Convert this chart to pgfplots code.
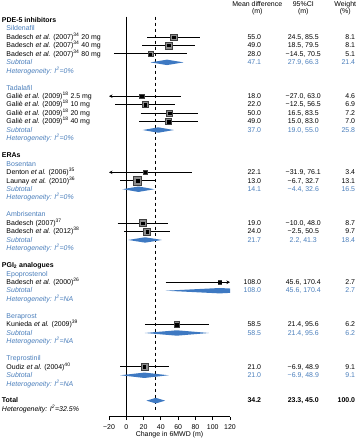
\documentclass[border=0pt]{standalone}
\usepackage{fontspec}
\setmainfont{Liberation Sans}
\usepackage{pgfplots}
\usepackage{pgfplotstable}
\pgfplotsset{compat=1.18}
\usetikzlibrary{calc,arrows.meta}
\definecolor{tblue}{HTML}{4A7EBB}
\definecolor{dblue}{HTML}{3E79C2}

\pgfplotstableread{
r m w
2 55.0 8.1
3 49.0 8.1
4 28.0 5.1
9 18.0 4.6
10 22.0 6.9
11 50.0 7.2
12 49.0 7.0
18 22.1 3.4
19 13.0 13.1
24 19.0 8.7
25 24.0 9.7
31 108.0 2.7
36 58.5 6.2
41 21.0 9.1
}\studies

% text helpers: xshift in bp from x=0 line, row, text
\newcommand\LabSub[3][]{\node[anchor=base west,inner sep=0pt,#1] at ([xshift=-120bp,yshift=-2.3bp]axis cs:0,#2) {#3};}
\newcommand\LabTop[3][]{\node[anchor=base west,inner sep=0pt,#1] at ([xshift=-124.5bp,yshift=-2.3bp]axis cs:0,#2) {#3};}
\newcommand\Cols[5][]{%
  \node[anchor=base east,inner sep=0pt,#1] at ([xshift=135bp,yshift=-2.3bp]axis cs:0,#2) {#3};
  \node[anchor=base,inner sep=0pt,#1] at ([xshift=177bp,yshift=-2.3bp]axis cs:0,#2) {#4};
  \node[anchor=base east,inner sep=0pt,#1] at ([xshift=229bp,yshift=-2.3bp]axis cs:0,#2) {#5};}
\newcommand\Het[1]{\textit{Heterogeneity: I\textsuperscript{2}=#1}}

\begin{document}
\fontsize{7}{8.4}\selectfont
\begin{tikzpicture}[font=\fontsize{7}{8.4}\selectfont]
\begin{axis}[
  at={(0,0)}, anchor=south west,
  scale only axis, width=121bp, height=400bp,
  xmin=-20, xmax=120, ymin=-0.4, ymax=46.9, y dir=reverse,
  axis x line*=bottom, axis y line=none,
  x axis line style={line width=0.9bp, black},
  xtick={-20,0,20,40,60,80,100,120},
  xticklabels={−20,0,20,40,60,80,100,120},
  tick align=outside, major tick length=3.5bp,
  xtick style={line width=0.9bp, black},
  xticklabel style={font=\fontsize{7}{8}\selectfont, inner sep=0pt, text height=5bp, text depth=0pt, yshift=-4bp},
  clip=false,
  ci/.style={black, line width=0.9bp},
]
% reference lines
\addplot[black, line width=0.9bp] coordinates {(0,-0.4) (0,46.9)};
\addplot[black, line width=0.9bp, dash pattern=on 3.5bp off 2.5bp] coordinates {(34.2,-0.4) (34.2,46.3)};

% confidence intervals
\addplot[ci] coordinates {(24.5,2) (85.5,2)};
\addplot[ci] coordinates {(18.5,3) (79.5,3)};
\addplot[ci] coordinates {(-14.5,4) (70.5,4)};
\addplot[ci, {Stealth[length=3.5bp,width=3.5bp]}-] coordinates {(-20,9) (63.0,9)};
\addplot[ci] coordinates {(-12.5,10) (56.5,10)};
\addplot[ci] coordinates {(16.5,11) (83.5,11)};
\addplot[ci] coordinates {(15.0,12) (83.0,12)};
\addplot[ci, {Stealth[length=3.5bp,width=3.5bp]}-] coordinates {(-20,18) (76.1,18)};
\addplot[ci] coordinates {(-6.7,19) (32.7,19)};
\addplot[ci] coordinates {(-10.0,24) (48.0,24)};
\addplot[ci] coordinates {(-2.5,25) (50.5,25)};
\addplot[ci, -{Stealth[length=3.5bp,width=3.5bp]}] coordinates {(45.6,31) (120,31)};
\addplot[ci] coordinates {(21.4,36) (95.6,36)};
\addplot[ci] coordinates {(-6.9,41) (48.9,41)};

% study squares (area ~ weight)
\addplot[scatter, only marks, mark=square*,
  scatter/use mapped color={draw=black!75, fill=black!45},
  visualization depends on={1.15*sqrt(\thisrow{w}) \as \msz},
  scatter/@pre marker code/.append style={/tikz/mark size=\msz, /tikz/line width=0.5bp}]
  table[x=m, y=r] {\studies};
\addplot[only marks, mark=square*, mark size=1.2bp, black] table[x=m, y=r] {\studies};

% diamonds
\addplot[fill=dblue, draw=none] coordinates {(27.9,5) (47.1,4.68) (66.3,5) (47.1,5.32)};
\addplot[fill=dblue, draw=none] coordinates {(19.0,13) (37.0,12.68) (55.0,13) (37.0,13.32)};
\addplot[fill=dblue, draw=none] coordinates {(-4.4,20) (14.1,19.68) (32.6,20) (14.1,20.32)};
\addplot[fill=dblue, draw=none] coordinates {(2.2,26) (21.7,25.68) (41.3,26) (21.7,26.32)};
\addplot[fill=dblue, draw=none] coordinates {(45.6,32) (108.0,31.68) (120,31.742) (120,32.258) (108.0,32.32)};
\addplot[fill=dblue, draw=none] coordinates {(21.4,37) (58.5,36.68) (95.6,37) (58.5,37.32)};
\addplot[fill=dblue, draw=none] coordinates {(-6.9,42) (21.0,41.68) (48.9,42) (21.0,42.32)};
\addplot[fill=dblue, draw=none] coordinates {(23.3,45) (34.2,44.67) (45.0,45) (34.2,45.33)};

% column headers
\node[anchor=base,inner sep=0pt] at ([xshift=131bp,yshift=-2.3bp]axis cs:0,-1.9) {Mean difference};
\node[anchor=base,inner sep=0pt] at ([xshift=131bp,yshift=-2.3bp]axis cs:0,-1.0) {(m)};
\node[anchor=base,inner sep=0pt] at ([xshift=177bp,yshift=-2.3bp]axis cs:0,-1.9) {95\%CI};
\node[anchor=base,inner sep=0pt] at ([xshift=177bp,yshift=-2.3bp]axis cs:0,-1.0) {(m)};
\node[anchor=base,inner sep=0pt] at ([xshift=219bp,yshift=-2.3bp]axis cs:0,-1.9) {Weight};
\node[anchor=base,inner sep=0pt] at ([xshift=219bp,yshift=-2.3bp]axis cs:0,-1.0) {(\%)};

% left labels
\LabTop[font=\fontsize{7}{8.4}\selectfont\bfseries]{0}{PDE-5 inhibitors}
\LabSub[text=tblue]{1}{Sildenafil}
\LabSub{2}{Badesch \textit{et al.} (2007)\textsuperscript{34} 20 mg}
\LabSub{3}{Badesch \textit{et al.} (2007)\textsuperscript{34} 40 mg}
\LabSub{4}{Badesch \textit{et al.} (2007)\textsuperscript{34} 80 mg}
\LabSub[text=tblue]{5}{\textit{Subtotal}}
\LabSub[text=tblue]{6}{\Het{0\%}}
\LabSub[text=tblue]{8}{Tadalafil}
\LabSub{9}{Galiè \textit{et al.} (2009)\textsuperscript{18} 2.5 mg}
\LabSub{10}{Galiè \textit{et al.} (2009)\textsuperscript{18} 10 mg}
\LabSub{11}{Galiè \textit{et al.} (2009)\textsuperscript{18} 20 mg}
\LabSub{12}{Galiè \textit{et al.} (2009)\textsuperscript{18} 40 mg}
\LabSub[text=tblue]{13}{\textit{Subtotal}}
\LabSub[text=tblue]{14}{\Het{0\%}}
\LabTop[font=\fontsize{7}{8.4}\selectfont\bfseries]{16}{ERAs}
\LabSub[text=tblue]{17}{Bosentan}
\LabSub{18}{Denton \textit{et al.} (2006)\textsuperscript{35}}
\LabSub{19}{Launay \textit{et al.} (2010)\textsuperscript{36}}
\LabSub[text=tblue]{20}{\textit{Subtotal}}
\LabSub[text=tblue]{21}{\Het{0\%}}
\LabSub[text=tblue]{23}{Ambrisentan}
\LabSub{24}{Badesch (2007)\textsuperscript{37}}
\LabSub{25}{Badesch \textit{et al.} (2012)\textsuperscript{38}}
\LabSub[text=tblue]{26}{\textit{Subtotal}}
\LabSub[text=tblue]{27}{\Het{0\%}}
\LabTop[font=\fontsize{7}{8.4}\selectfont\bfseries]{29}{PGI\textsubscript{2} analogues}
\LabSub[text=tblue]{30}{Epoprostenol}
\LabSub{31}{Badesch \textit{et al.} (2000)\textsuperscript{26}}
\LabSub[text=tblue]{32}{\textit{Subtotal}}
\LabSub[text=tblue]{33}{\Het{NA}}
\LabSub[text=tblue]{35}{Beraprost}
\LabSub{36}{Kunieda \textit{et al.} (2009)\textsuperscript{39}}
\LabSub[text=tblue]{37}{\textit{Subtotal}}
\LabSub[text=tblue]{38}{\Het{NA}}
\LabSub[text=tblue]{40}{Treprostinil}
\LabSub{41}{Oudiz \textit{et al.} (2004)\textsuperscript{40}}
\LabSub[text=tblue]{42}{\textit{Subtotal}}
\LabSub[text=tblue]{43}{\Het{NA}}
\LabTop[font=\fontsize{7}{8.4}\selectfont\bfseries]{45}{Total}
\LabTop{46}{\Het{32.5\%}}

% right columns
\Cols{2}{55.0}{24.5, 85.5}{8.1}
\Cols{3}{49.0}{18.5, 79.5}{8.1}
\Cols{4}{28.0}{−14.5, 70.5}{5.1}
\Cols[text=tblue]{5}{47.1}{27.9, 66.3}{21.4}
\Cols{9}{18.0}{−27.0, 63.0}{4.6}
\Cols{10}{22.0}{−12.5, 56.5}{6.9}
\Cols{11}{50.0}{16.5, 83.5}{7.2}
\Cols{12}{49.0}{15.0, 83.0}{7.0}
\Cols[text=tblue]{13}{37.0}{19.0, 55.0}{25.8}
\Cols{18}{22.1}{−31.9, 76.1}{3.4}
\Cols{19}{13.0}{−6.7, 32.7}{13.1}
\Cols[text=tblue]{20}{14.1}{−4.4, 32.6}{16.5}
\Cols{24}{19.0}{−10.0, 48.0}{8.7}
\Cols{25}{24.0}{−2.5, 50.5}{9.7}
\Cols[text=tblue]{26}{21.7}{2.2, 41.3}{18.4}
\Cols{31}{108.0}{45.6, 170.4}{2.7}
\Cols[text=tblue]{32}{108.0}{45.6, 170.4}{2.7}
\Cols{36}{58.5}{21.4, 95.6}{6.2}
\Cols[text=tblue]{37}{58.5}{21.4, 95.6}{6.2}
\Cols{41}{21.0}{−6.9, 48.9}{9.1}
\Cols[text=tblue]{42}{21.0}{−6.9, 48.9}{9.1}
\Cols[font=\fontsize{7}{8.4}\selectfont\bfseries]{45}{34.2}{23.3, 45.0}{100.0}

% x label
\node[anchor=base,inner sep=0pt] at ([yshift=-20bp]axis cs:50,46.9) {Change in 6MWD (m)};
\end{axis}
\pgfresetboundingbox
\path[use as bounding box] ($(current axis.south west)+(-109bp,-23.3bp)$) rectangle ++(358bp,440bp);
\end{tikzpicture}
\end{document}
